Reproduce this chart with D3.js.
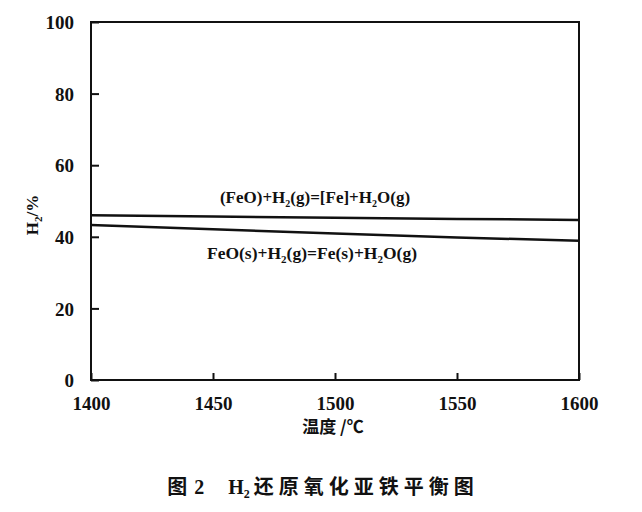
<!DOCTYPE html>
<html><head><meta charset="utf-8">
<script src="https://cdn.jsdelivr.net/npm/d3@7"></script>
<style>
body{margin:0;background:#fff;}
</style></head>
<body><svg id="c" width="642" height="512"></svg>
<script>
const temps = [1400, 1450, 1500, 1550, 1600];
const liquidFeO = [46.0, 45.7, 45.3, 45.0, 44.7];   // (FeO)+H2(g)=[Fe]+H2O(g)
const solidFeO  = [43.3, 42.1, 40.9, 39.8, 38.9];   // FeO(s)+H2(g)=Fe(s)+H2O(g)
const xTicks = [1400, 1450, 1500, 1550, 1600];
const yTicks = [0, 20, 40, 60, 80, 100];

const SERIF = "Liberation Serif";
const CJK = "Noto Sans CJK SC";

const svg = d3.select("#c");
const L = 91, R = 579, T = 22, B = 380;
const x = d3.scaleLinear().domain([1400, 1600]).range([L, R]);
const y = d3.scaleLinear().domain([0, 100]).range([B, T]);

// frame
svg.append("rect").attr("x", L).attr("y", T).attr("width", R - L).attr("height", B - T)
  .attr("fill", "none").attr("stroke", "#111").attr("stroke-width", 2);

// axes with inward ticks
const xAxis = d3.axisBottom(x).tickValues(xTicks).tickSizeInner(-7).tickSizeOuter(0).tickPadding(14).tickFormat(d3.format("d"));
const gx = svg.append("g").attr("transform", `translate(0,${B})`).call(xAxis);
const yAxis = d3.axisLeft(y).tickValues(yTicks).tickSizeInner(-8).tickSizeOuter(0).tickPadding(17).tickFormat(d3.format("d"));
const gy = svg.append("g").attr("transform", `translate(${L},0)`).call(yAxis);
[gx, gy].forEach(g => {
  g.select(".domain").remove();
  g.selectAll(".tick line").attr("stroke", "#111").attr("stroke-width", 2);
  g.selectAll(".tick text").attr("fill", "#111")
    .style("font-family", SERIF).style("font-size", "19px").style("font-weight", "bold");
});
gx.selectAll(".tick text").attr("dy", "0.85em");
gy.selectAll(".tick text").attr("dy", "0.35em");

// lines
const line = d3.line().x((d, i) => x(temps[i])).y(d => y(d));
[liquidFeO, solidFeO].forEach(s => {
  svg.append("path").datum(s).attr("d", line).attr("fill", "none")
    .attr("stroke", "#111").attr("stroke-width", 2.5);
});

// labels with subscripts
function label(xp, yp, fs, parts) {
  const t = svg.append("text").attr("x", xp).attr("y", yp).attr("text-anchor", "middle")
    .style("font-size", fs + "px").style("font-family", SERIF).style("font-weight", "bold").attr("fill", "#111");
  let shift = 0;
  parts.forEach(p => {
    if (typeof p === "object") {
      t.append("tspan").style("font-size", Math.round(fs * 0.6) + "px").attr("dy", 4).text(p.s);
      shift = -4;
    } else { t.append("tspan").attr("dy", shift).text(p); shift = 0; }
  });
  return t;
}
label(315, 203, 17, ["(FeO)+H", {s: "2"}, "(g)=[Fe]+H", {s: "2"}, "O(g)"]);
label(312, 259, 17.5, ["FeO(s)+H", {s: "2"}, "(g)=Fe(s)+H", {s: "2"}, "O(g)"]);

// y axis title
const yt = svg.append("text").attr("transform", "translate(38,215) rotate(-90)")
  .attr("text-anchor", "middle").style("font-size", "17px").style("font-family", SERIF).style("font-weight", "bold").attr("fill", "#111");
yt.append("tspan").text("H");
yt.append("tspan").style("font-size", "11px").attr("dy", 4).text("2");
yt.append("tspan").attr("dy", -4).text("/%");

// x axis title
svg.append("text").attr("x", 333).attr("y", 433).attr("text-anchor", "middle")
  .style("font-family", CJK).style("font-weight", "bold").attr("fill", "#111")
  .style("font-size", "17px").text("温度 /℃");

// caption
const cap = svg.append("text").attr("x", 323).attr("y", 494).attr("text-anchor", "middle")
  .style("font-size", "20px").style("font-family", SERIF).style("font-weight", "bold").attr("fill", "#111");
cap.append("tspan").style("font-family", CJK).text("图");
cap.append("tspan").attr("dx", 7).text("2");
cap.append("tspan").attr("dx", 24).text("H");
cap.append("tspan").style("font-size", "12px").attr("dy", 4).text("2");
cap.append("tspan").attr("dy", -4).attr("dx", 4).style("font-family", CJK).attr("letter-spacing", 5).text("还原氧化亚铁平衡图");
</script></body></html>
